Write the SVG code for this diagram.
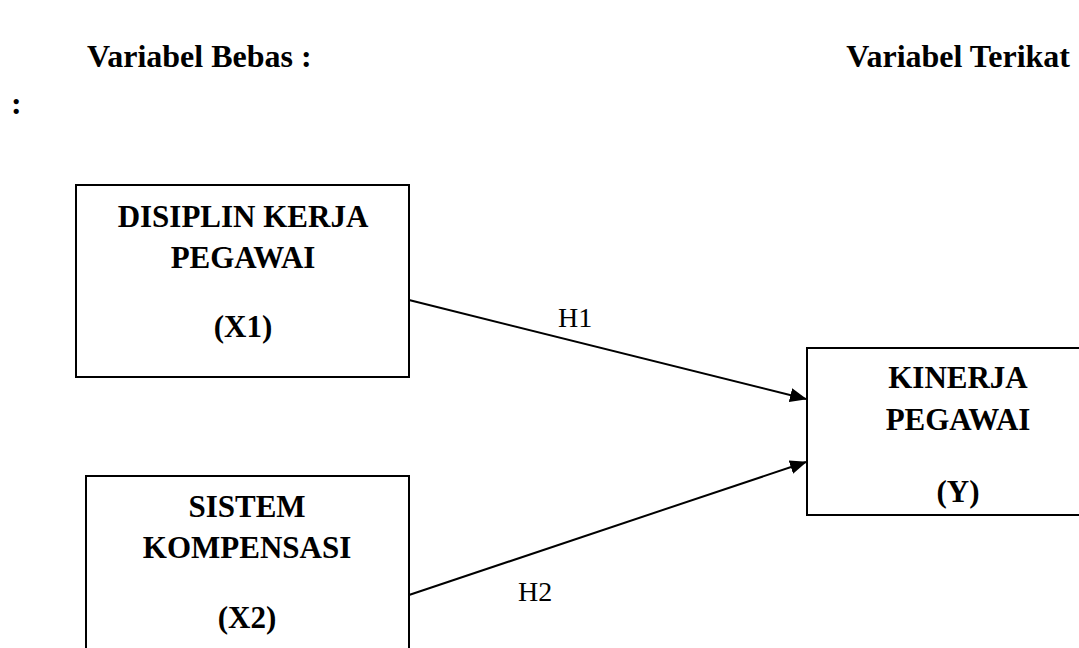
<svg xmlns="http://www.w3.org/2000/svg" width="1079" height="648" viewBox="0 0 1079 648">
<defs>
<style>
.b{font-family:"Liberation Serif","Times New Roman",serif;font-weight:bold;font-size:31px;fill:#000}
.h{font-size:32px}
.c{text-anchor:middle}
.r{font-family:"Liberation Serif","Times New Roman",serif;font-size:28px;fill:#000}
.box{fill:#fff;stroke:#000;stroke-width:2}
.con{stroke:#000;stroke-width:2;fill:none}
</style>
<marker id="ah" markerWidth="17" markerHeight="14" refX="16" refY="7" orient="auto" markerUnits="userSpaceOnUse">
<path d="M0,0 L17,7 L0,14 Z" fill="#000"/>
</marker>
</defs>
<rect width="1079" height="648" fill="#fff"/>
<g id="headers">
<text class="b h" x="87" y="67">Variabel Bebas :</text>
<text class="b h" x="1070" y="67" text-anchor="end">Variabel Terikat</text>
<text class="b h" x="11" y="114">:</text>
</g>
<g id="connectors">
<line class="con" x1="409" y1="300" x2="806" y2="399" marker-end="url(#ah)"/>
<line class="con" x1="409" y1="595" x2="806" y2="462" marker-end="url(#ah)"/>
<text class="r" x="558" y="327">H1</text>
<text class="r" x="518" y="601">H2</text>
</g>
<g id="x1">
<rect class="box" x="76" y="185" width="333" height="192"/>
<text class="b c" x="243" y="227">DISIPLIN KERJA</text>
<text class="b c" x="243" y="268">PEGAWAI</text>
<text class="b c" x="243" y="337">(X1)</text>
</g>
<g id="x2">
<rect class="box" x="86" y="476" width="323" height="200"/>
<text class="b c" x="247" y="517">SISTEM</text>
<text class="b c" x="247" y="558">KOMPENSASI</text>
<text class="b c" x="247" y="628">(X2)</text>
</g>
<g id="y">
<rect class="box" x="807" y="348" width="300" height="167"/>
<text class="b c" x="958" y="388">KINERJA</text>
<text class="b c" x="958" y="430">PEGAWAI</text>
<text class="b c" x="958" y="502">(Y)</text>
</g>
</svg>
